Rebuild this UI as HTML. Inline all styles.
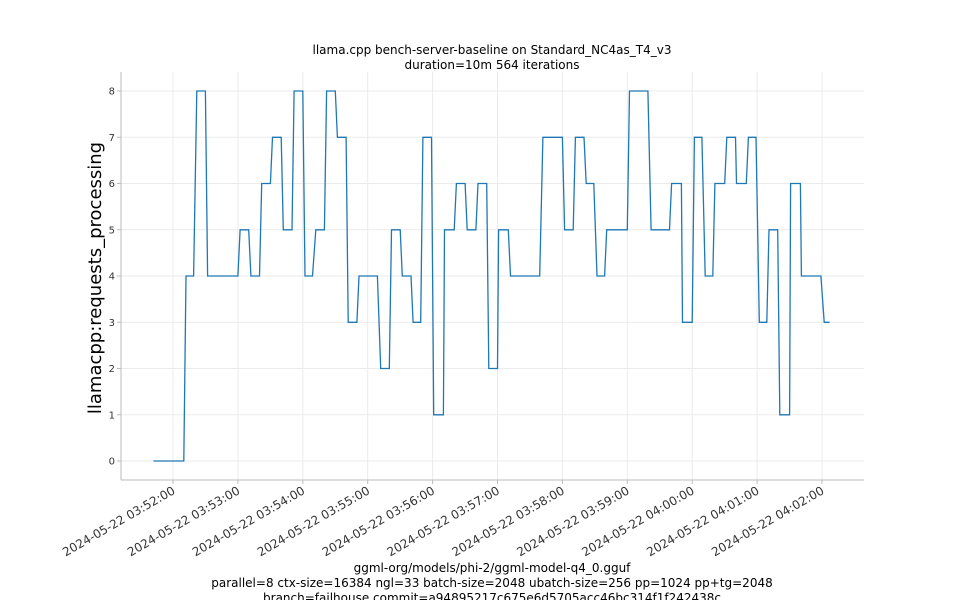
<!DOCTYPE html>
<html><head><meta charset="utf-8"><style>
body{margin:0;background:#fff}
svg{font-family:"DejaVu Sans","Liberation Sans",sans-serif}
</style></head><body>
<svg id="chart" width="960" height="600" viewBox="0 0 960 600">
<text x="492" y="54" text-anchor="middle" font-size="12">llama.cpp bench-server-baseline on Standard_NC4as_T4_v3</text>
<text x="492" y="69" text-anchor="middle" font-size="12">duration=10m 564 iterations</text>
<g id="grid"></g>
<g id="axes"></g>
<g id="series"></g>
<text transform="translate(101,278) rotate(-90)" text-anchor="middle" font-size="18">llamacpp:requests_processing</text>
<text x="492" y="572" text-anchor="middle" font-size="12">ggml-org/models/phi-2/ggml-model-q4_0.gguf</text>
<text x="492" y="587" text-anchor="middle" font-size="12">parallel=8 ctx-size=16384 ngl=33 batch-size=2048 ubatch-size=256 pp=1024 pp+tg=2048</text>
<text x="492" y="602" text-anchor="middle" font-size="12">branch=failhouse commit=a94895217c675e6d5705acc46bc314f1f242438c</text>
</svg>
<script>
// seconds offset from 2024-05-22 03:52:00
const levelStarts = [-18,12,22,32,62,72,82,92,102,112,122,132,142,152,162,172,192,202,212,222,231,241,251,262,272,282,292,301,312,342,362,372,382,392,401,422,442,461,471,482,492,501,512,521,532,542,551,561,571,581,602];
const levelEnds   = [10,19,30,60,70,80,90,100,110,120,129,140,150,160,170,189,200,210,220,229,239,250,260,270,280,290,300,310,339,360,370,380,389,399,420,439,459,470,480,489,499,510,520,530,539,549,559,570,580,599,607];
const levelValues = [0,4,8,4,5,4,6,7,5,8,4,5,8,7,3,4,2,5,4,3,7,1,5,6,5,6,2,5,4,7,5,7,6,4,5,8,5,6,3,7,4,6,7,6,7,3,5,1,6,4,3];
const yTicks = [0,1,2,3,4,5,6,7,8];
const xTickMinutes = [0,1,2,3,4,5,6,7,8,9,10];
const xTickLabels = ["2024-05-22 03:52:00","2024-05-22 03:53:00","2024-05-22 03:54:00","2024-05-22 03:55:00","2024-05-22 03:56:00","2024-05-22 03:57:00","2024-05-22 03:58:00","2024-05-22 03:59:00","2024-05-22 04:00:00","2024-05-22 04:01:00","2024-05-22 04:02:00"];

const NS="http://www.w3.org/2000/svg";
const L=121,R=864,T=72,B=480;
const xs=s=>173+s*(649/600);
const ys=v=>461-v*46.25;
function mk(tag,attrs,parent){const e=document.createElementNS(NS,tag);for(const k in attrs)e.setAttribute(k,attrs[k]);parent.appendChild(e);return e;}
const grid=document.getElementById('grid'),axes=document.getElementById('axes'),series=document.getElementById('series');

yTicks.forEach(v=>{
  const g=mk('line',{x1:L,x2:R,y1:ys(v),y2:ys(v),stroke:'#ebebeb','stroke-width':1},grid);
  
  
  const t=mk('line',{x1:L-4,x2:L,y1:ys(v),y2:ys(v),stroke:'#bbb'},axes);
  
  
  const lb=mk('text',{x:L-6,y:ys(v)+3.5,'text-anchor':'end','font-size':10,fill:'#333'},axes);
  lb.textContent=v;
  
  
});
xTickMinutes.forEach((m,i)=>{
  const x=xs(m*60);
  const g=mk('line',{x1:x,x2:x,y1:T,y2:B,stroke:'#ebebeb'},grid);
  
  
  const t=mk('line',{x1:x,x2:x,y1:B,y2:B+4,stroke:'#bbb'},axes);
  
  
  const lb=mk('text',{x:0,y:0,'text-anchor':'end','font-size':12,fill:'#333',transform:`translate(${x+3},${B+13}) rotate(-30)`},axes);
  lb.textContent=xTickLabels[i];
  
  
});
const sl=mk('line',{x1:L,x2:L,y1:T,y2:B,stroke:'#bbb'},axes);


const sb=mk('line',{x1:L,x2:R,y1:B,y2:B,stroke:'#bbb'},axes);



let pts=[];
levelValues.forEach((v,i)=>{pts.push(xs(levelStarts[i]).toFixed(1)+','+ys(v).toFixed(1));pts.push(xs(levelEnds[i]).toFixed(1)+','+ys(v).toFixed(1));});
const pl=mk('polyline',{points:pts.join(' '),fill:'none',stroke:'#1f77b4','stroke-width':1.3},series);


</script>
</body></html>
